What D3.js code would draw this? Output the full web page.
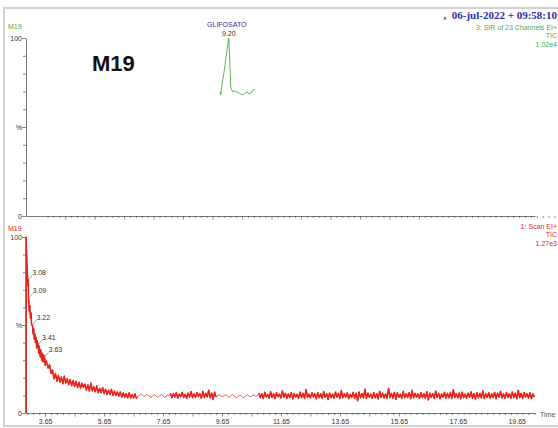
<!DOCTYPE html>
<html>
<head>
<meta charset="utf-8">
<script src="https://cdn.jsdelivr.net/npm/d3@7"></script>
<style>
  html, body { margin: 0; padding: 0; background: #fff; }
  svg { display: block; }
  text { font-family: "Liberation Sans", Arial, sans-serif; }
</style>
</head>
<body>
<svg id="chart" width="558" height="428"></svg>
<script>
// ---- SIR trace (function 3), peak apex labelled 9.20 ----
const sirTimes  = [8.90, 8.93, 8.96, 9.00, 9.05, 9.13, 9.20, 9.24, 9.27, 9.34, 9.41, 9.48, 9.55, 9.61, 9.68, 9.75, 9.82, 9.89, 9.95, 10.02, 10.09];
const sirValues = [69.8, 68.0, 72.6, 77.0, 82.0, 92.0, 100,  83.9, 71.9, 69.7, 70.2, 69.7, 69.1, 68.5, 68.0, 69.1, 69.7, 68.5, 69.1, 70.8, 71.3];
const sirPeakName = "GLIFOSATO";
const sirPeakTime = 9.20;

// ---- Scan TIC (function 1): leading edge, then a regular scan grid ----
const ticLeadTimes  = [3.00, 3.003, 3.03, 3.05, 3.07, 3.08, 3.085, 3.09, 3.11, 3.13, 3.15, 3.17, 3.19, 3.22, 3.24, 3.26, 3.28, 3.30, 3.32, 3.34, 3.36, 3.38, 3.41, 3.43, 3.45, 3.48, 3.50, 3.53, 3.55, 3.58, 3.60, 3.63, 3.65, 3.67];
const ticLeadValues = [0,    100,   85,   78,   72,   75.5, 63,    65,   58,   61,   54,   57,   50,   50,   45,   48,   42,   45,   40,   43,   37,   41,   38.6, 34,   38,   32,   36,   30,   34,   29,   33,   31.8, 27,   30];

const scanStart = 3.70;
const scanStep  = 0.05;
const ticScanValues = [
  // 3.70 - 6.75
  29.0, 25.5, 27.5, 22.5, 24.5, 19.5, 22.5, 18.0, 21.5, 17.5,
  20.5, 16.5, 21.0, 17.0, 19.5, 16.0, 19.0, 15.5, 18.5, 15.0,
  18.0, 14.5, 17.5, 14.0, 17.0, 14.5, 16.5, 13.0, 16.0, 12.5,
  17.0, 12.5, 15.0, 12.0, 15.5, 11.5, 14.0, 11.5, 14.5, 11.0,
  13.5, 10.5, 13.0, 10.5, 13.5, 10.0, 12.5, 10.0, 12.0, 9.5,
  12.0, 9.0, 11.5, 9.0, 11.0, 8.5, 11.5, 8.5, 10.5, 8.5,
  11.0, 8.0,
  // 6.80 - 7.85
  9.5, 10.3, 11.0, 10.2, 9.4, 9.8, 10.6, 10.0, 9.2, 9.0,
  9.8, 10.4, 9.9, 9.1, 9.3, 10.1, 10.5, 9.7, 8.9, 9.4,
  10.2, 9.8,
  // 7.90 - 9.45
  11.2, 8.6, 11.0, 9.0, 11.5, 8.4, 10.8, 9.2, 11.8, 8.8,
  10.6, 8.2, 11.4, 9.0, 12.2, 8.6, 10.9, 8.8, 11.6, 9.4,
  11.0, 8.3, 12.4, 8.7, 11.2, 9.1, 13.0, 8.5, 11.4, 7.8,
  11.8, 9.0,
  // 9.50 - 10.85
  9.8, 10.4, 9.9, 9.2, 9.6, 10.3, 10.0, 9.3, 9.0, 9.7,
  10.5, 9.9, 9.0, 8.6, 9.3, 10.2, 9.8, 8.9, 8.7, 9.6,
  10.4, 10.0, 9.2, 9.5, 10.3, 10.1, 9.4, 9.9,
  // 10.90 - 20.25
  11.4, 8.6, 10.9, 8.2, 11.8, 9.0, 10.6, 8.4, 12.1, 8.8,
  11.0, 8.1, 11.5, 9.2, 10.8, 8.5, 12.6, 8.9, 11.2, 8.3,
  10.9, 8.7, 11.6, 7.9, 11.1, 9.0, 10.7, 8.4, 11.9, 8.6,
  11.3, 8.2, 13.4, 8.8, 10.8, 8.5, 11.5, 9.1, 11.0, 8.0,
  11.7, 8.6, 10.9, 8.3, 12.2, 8.9, 11.1, 7.6, 11.4, 8.7,
  10.8, 8.4, 11.9, 9.0, 11.2, 8.2, 12.8, 8.6, 11.0, 8.9,
  11.5, 8.1, 10.7, 8.8, 11.8, 8.4, 11.3, 6.9, 12.0, 8.7,
  11.1, 8.5, 13.6, 8.2, 11.4, 8.9, 10.8, 8.3, 11.7, 8.6,
  11.0, 8.0, 12.4, 8.8, 11.3, 8.5, 10.9, 8.2, 14.1, 8.7,
  11.2, 8.4, 11.8, 7.7, 11.5, 8.9, 10.8, 8.3, 12.3, 8.6,
  11.0, 8.8, 11.6, 8.1, 12.9, 8.5, 11.2, 8.9, 10.9, 8.2,
  11.7, 8.6, 11.1, 8.4, 12.2, 7.4, 11.4, 8.8, 11.0, 8.3,
  12.5, 8.7, 11.3, 8.1, 10.9, 8.9, 11.8, 8.4, 11.2, 8.6,
  11.6, 8.2, 13.2, 8.8, 11.0, 8.5, 11.5, 8.0, 11.9, 8.7,
  10.8, 8.4, 11.4, 8.9, 12.1, 8.3, 11.1, 7.8, 11.7, 8.6,
  11.2, 8.5, 12.6, 8.2, 11.0, 8.8, 11.5, 8.4, 10.9, 8.7,
  11.8, 8.1, 11.3, 8.9, 12.4, 8.5, 11.0, 8.2, 11.6, 8.8,
  11.1, 8.4, 12.0, 8.7, 11.4, 8.0, 13.0, 8.6, 11.2, 8.3,
  11.7, 8.9, 11.0, 8.5, 11.5, 8.2, 10.9, 9.0
];

// time spans where the scan trace is quiet (drawn with the fine pen)
const quietSpans = [[6.76, 7.87], [9.46, 10.87]];

// labelled apexes on the scan TIC
const ticPeakTimes  = [3.08, 3.09, 3.22, 3.41, 3.63];
const ticPeakValues = [75.5, 65, 50, 38.6, 31.8];

// axis labels
const timeTickLabels = ["3.65", "5.65", "7.65", "9.65", "11.65", "13.65", "15.65", "17.65", "19.65"];
const pctTickLabels  = { 0: "0", 50: "%", 100: "100" };

// header texts
const runDate   = "06-jul-2022 + 09:58:10";
const topInfo   = ["3: SIR of 23 Channels EI+", "TIC", "1.02e4"];
const botInfo   = ["1: Scan EI+", "TIC", "1.27e3"];
const sampleId  = "M19";

// ---------------------------------------------------------------
const svg = d3.select("#chart");
const W = 558, H = 428;
const RED = "#e4231c", GREEN = "#4aaa4a", BLUE = "#2c2ca8", AX = "#555";
const SERIF = "'Liberation Serif', 'Times New Roman', serif";

svg.append("rect").attr("width", W).attr("height", H).attr("fill", "#fff");
// outer frame
svg.append("rect").attr("x", 4).attr("y", 8).attr("width", 570).attr("height", 418)
  .attr("fill", "none").attr("stroke", "#d2d2d2").attr("stroke-width", 2);

const xBot = d3.scaleLinear().domain([3.0, 20.27]).range([26, 535]);
const xTop = d3.scaleLinear().domain([2.32, 19.59]).range([26, 535]);
const yTop = d3.scaleLinear().domain([0, 100]).range([216, 38]);
const yBot = d3.scaleLinear().domain([0, 100]).range([413, 237]);

const pctTicks = d3.range(0, 101, 10);
const timeTicks = d3.range(0, 87).map(i => +(3.05 + i * 0.2).toFixed(2));

function styleAxis(g) {
  g.selectAll("path.domain").attr("stroke", AX).attr("stroke-width", 0.8);
  g.selectAll(".tick line").attr("stroke", AX).attr("stroke-width", 0.7);
  g.selectAll(".tick text").attr("fill", "#333").attr("font-size", 7);
}

function yAxis(scale) {
  const g = svg.append("g").attr("transform", "translate(26,0)")
    .call(d3.axisLeft(scale).tickValues(pctTicks).tickSize(3).tickSizeOuter(0).tickPadding(1)
      .tickFormat(d => pctTickLabels[d] !== undefined ? pctTickLabels[d] : ""));
  styleAxis(g);
  g.selectAll(".tick line").attr("x2", d => (d % 50 === 0 ? -4 : -3));
  return g;
}

function xAxis(scale, yPos, withLabels) {
  const g = svg.append("g").attr("transform", `translate(0,${yPos})`)
    .call(d3.axisBottom(scale).tickValues(timeTicks).tickSize(2).tickSizeOuter(0).tickPadding(4)
      .tickFormat(d => withLabels && timeTickLabels.includes(d.toFixed(2)) ? d.toFixed(2) : ""));
  styleAxis(g);
  g.selectAll(".tick line").attr("y2", d => (Math.abs(((d - 3.65) % 1 + 1) % 1) < 0.01 ? 3.5 : 2));
  return g;
}

yAxis(yTop);
yAxis(yBot);
xAxis(xTop, 216, false);
xAxis(xBot, 413, true);

// ---- SIR trace ----
const sirData = sirTimes.map((t, i) => ({ t, v: sirValues[i] }));
svg.append("path").datum(sirData)
  .attr("fill", "none").attr("stroke", GREEN).attr("stroke-width", 0.9)
  .attr("d", d3.line().x(d => xTop(d.t)).y(d => yTop(d.v)));

svg.append("text").attr("x", xTop(sirPeakTime) - 2).attr("y", 27)
  .attr("text-anchor", "middle").attr("font-size", 7).attr("fill", BLUE).text(sirPeakName);
svg.append("text").attr("x", xTop(sirPeakTime)).attr("y", 35.5)
  .attr("text-anchor", "middle").attr("font-size", 7).attr("fill", "#333").text(sirPeakTime.toFixed(2));

// ---- Scan TIC ----
const ticData = ticLeadTimes.map((t, i) => ({ t, v: ticLeadValues[i] }))
  .concat(ticScanValues.map((v, i) => ({ t: +(scanStart + i * scanStep).toFixed(3), v })));
const isQuiet = t => quietSpans.some(([a, b]) => t >= a && t <= b);
const ticLine = d3.line().x(d => xBot(d.t)).y(d => yBot(d.v));

// fine pen over the whole trace
svg.append("path").datum(ticData)
  .attr("fill", "none").attr("stroke", RED).attr("stroke-width", 0.9).attr("stroke-opacity", 0.85)
  .attr("d", ticLine);
// heavier pen over the noisy stretches
svg.append("path").datum(ticData)
  .attr("fill", "none").attr("stroke", RED).attr("stroke-width", 1.5)
  .attr("stroke-linejoin", "round")
  .attr("d", ticLine.defined(d => !isQuiet(d.t)));

ticPeakTimes.forEach((t, i) => {
  const px = xBot(t), py = yBot(ticPeakValues[i]);
  svg.append("line").attr("x1", px).attr("y1", py).attr("x2", px + 4).attr("y2", py - 5)
    .attr("stroke", "#777").attr("stroke-width", 0.6);
  svg.append("text").attr("x", px + 4).attr("y", py - 5.5)
    .attr("font-size", 7).attr("fill", "#333").text(t.toFixed(2));
});

// ---- header / info texts ----
svg.append("text").attr("x", 8).attr("y", 29).attr("font-size", 7).attr("fill", GREEN).text(sampleId);
svg.append("text").attr("x", 8).attr("y", 230.5).attr("font-size", 7).attr("fill", RED).text(sampleId);

svg.append("text").attr("x", 92).attr("y", 71).attr("font-size", 22).attr("font-weight", "bold")
  .attr("fill", "#111").text(sampleId);

svg.append("text").attr("x", 557).attr("y", 19).attr("text-anchor", "end")
  .style("font-family", SERIF).attr("font-weight", "bold")
  .attr("font-size", 11).attr("fill", BLUE).text(",  " + runDate)
  .attr("xml:space", "preserve").style("white-space", "pre");

topInfo.forEach((s, i) => {
  svg.append("text").attr("x", 557).attr("y", 29.5 + i * 8.5).attr("text-anchor", "end")
    .attr("font-size", 7).attr("fill", GREEN).text(s);
});
botInfo.forEach((s, i) => {
  svg.append("text").attr("x", 557).attr("y", 228.5 + i * 8.5).attr("text-anchor", "end")
    .attr("font-size", 7).attr("fill", RED).text(s);
});

svg.append("text").attr("x", 540).attr("y", 417).attr("font-size", 7).attr("fill", "#555").text("Time");
</script>
</body>
</html>
